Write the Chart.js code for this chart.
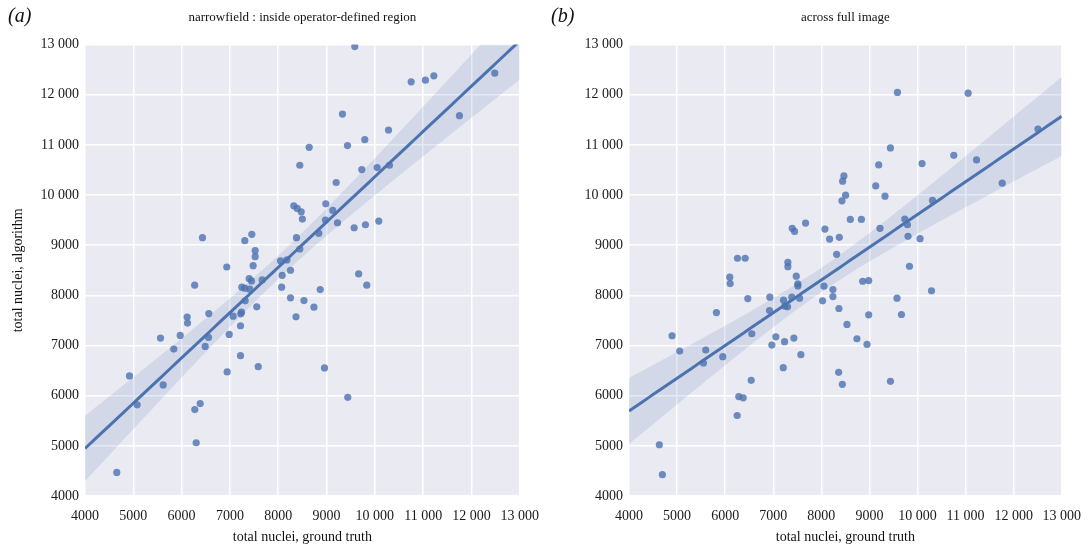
<!DOCTYPE html>
<html>
<head>
<meta charset="utf-8">
<script src="https://cdn.jsdelivr.net/npm/chart.js@4/dist/chart.umd.min.js"></script>
<style>
  body { margin: 0; background: #fff; overflow: hidden; }
  #wrap { position: relative; width: 1089px; height: 547px; overflow: hidden; }
  .panel { position: absolute; top: 0; height: 547px; }
  .lab { position: absolute; top: 4px; font: italic 20px "Liberation Serif", serif; color: #111; }
</style>
</head>
<body>
<div id="wrap">
  <div class="panel" style="left:0;width:551px"><canvas id="chart-a"></canvas></div>
  <div class="panel" style="left:545px;width:548px"><canvas id="chart-b"></canvas></div>
  <div class="lab" style="left:8px">(a)</div>
  <div class="lab" style="left:551px">(b)</div>
</div>
<script>
// ground truth vs algorithm counts, panel (a)
const truthA = [9585, 10752, 11048, 11221, 12483, 11752, 9330, 10283, 9792, 9434, 8641, 8447,
  9730, 10049, 10303, 9200, 8985, 9130, 8978, 9227, 9572, 9806, 10082, 8840, 8378, 8447,
  8322, 8393, 8476, 8500, 6432, 7308, 7453, 7523, 7523, 7481, 6935, 8047, 8180, 8254, 8082,
  8070, 7668, 8869, 8254, 8533, 8740, 8368, 9665, 9833, 8958, 9440, 6270, 7399, 7447, 7246,
  7308, 7411, 7316, 7556, 6115, 6122, 6563, 7067, 7240, 7225, 7219, 5971, 6985, 6557, 6488,
  5838, 7219, 7586, 6943, 5563, 4921, 5618, 5080, 6273, 6385, 6302, 4658];
const algoA = [12960, 12258, 12291, 12378, 12430, 11582, 11615, 11297, 11105, 10986, 10952, 10594,
  10509, 10549, 10594, 10251, 9825, 9694, 9501, 9448, 9348, 9408, 9481, 9237, 9150, 8925,
  9785, 9733, 9666, 9521, 9150, 9090, 9217, 8891, 8771, 8592, 8566, 8686, 8706, 8501, 8400,
  8163, 8308, 8116, 7951, 7897, 7765, 7573, 8428, 8203, 6553, 5968, 8203, 8334, 8288, 8163,
  8143, 8123, 7891, 7771, 7567, 7447, 7638, 7586, 7666, 7632, 7394, 7201, 7221, 7161, 6982,
  6930, 6797, 6579, 6473, 7149, 6394, 6215, 5817, 5724, 5843, 5062, 4471];

// panel (b)
const truthB = [8470, 8443, 8505, 8429, 7672, 7395, 7443, 8075, 8172, 8374, 8603, 8318, 6256,
  6416, 7304, 7304, 9583, 11053, 9437, 9193, 10755, 10095, 9131, 9324, 10312, 8833, 9220,
  9735, 9791, 9803, 10053, 9833, 7478, 7512, 7512, 7547, 8054, 8241, 8241, 8026, 8366, 8860,
  8985, 9574, 8985, 9666, 10291, 8533, 8741, 8950, 7429, 7575, 8360, 8437, 9437, 6096, 6104,
  6471, 6929, 6922, 7214, 7241, 7297, 7387, 5818, 4896, 5054, 5596, 5548, 5950, 6554, 7054,
  6971, 7235, 7208, 6541, 6283, 6375, 6250, 4631, 4694, 11228, 12505, 11762];
const algoB = [10382, 10277, 9998, 9885, 9442, 9336, 9276, 9322, 9123, 9157, 9515, 8819, 8740,
  8740, 8660, 8573, 12046, 12032, 10939, 10601, 10793, 10628, 10183, 9978, 9893, 9515, 9336,
  9521, 9408, 9177, 9130, 8581, 8382, 8229, 8189, 7944, 8183, 8116, 7976, 7891, 7738, 8282,
  8295, 7944, 7613, 7619, 8090, 7420, 7135, 7022, 7149, 6817, 6466, 6227, 6287, 8362, 8235,
  7937, 7964, 7698, 7905, 7785, 7771, 7964, 7658, 7195, 6891, 6911, 6652, 6778, 7235, 7175,
  7010, 7076, 6559, 6306, 5982, 5957, 5605, 5022, 4426, 10700, 11316, 10237];

const tickValues = [4000, 5000, 6000, 7000, 8000, 9000, 10000, 11000, 12000, 13000];
const tickLabels = ["4000", "5000", "6000", "7000", "8000", "9000", "10 000", "11 000", "12 000", "13 000"];

const BLUE = "rgb(76, 114, 176)";
const SERIF = "'Liberation Serif', 'DejaVu Serif', serif";

// least squares line with a 95% band for the mean, like seaborn's regplot
function regression(xs, ys) {
  const n = xs.length;
  const mx = xs.reduce((a, b) => a + b, 0) / n;
  const my = ys.reduce((a, b) => a + b, 0) / n;
  let sxx = 0, sxy = 0;
  xs.forEach((x, i) => {
    sxx += (x - mx) * (x - mx);
    sxy += (x - mx) * (ys[i] - my);
  });
  const slope = sxy / sxx;
  const icpt = my - slope * mx;
  let sse = 0;
  xs.forEach((x, i) => {
    const r = ys[i] - (icpt + slope * x);
    sse += r * r;
  });
  const s = Math.sqrt(sse / (n - 2));
  const line = [], lower = [], upper = [];
  for (let x = tickValues[0]; x <= tickValues[tickValues.length - 1]; x += 100) {
    const yh = icpt + slope * x;
    const half = 1.99 * s * Math.sqrt(1 / n + ((x - mx) * (x - mx)) / sxx);
    line.push({ x, y: yh });
    lower.push({ x, y: yh - half });
    upper.push({ x, y: yh + half });
  }
  return { line, lower, upper };
}

const plotBg = {
  id: "plotBg",
  beforeDraw(chart) {
    const { ctx, chartArea: a } = chart;
    ctx.save();
    ctx.fillStyle = "#eaeaf2";
    ctx.fillRect(a.left, a.top, a.right - a.left, a.bottom - a.top);
    ctx.restore();
  },
};

function makeChart(id, xs, ys, title, yTitle, axisWidth) {
  const fit = regression(xs, ys);
  const points = xs.map((x, i) => ({ x, y: ys[i] }));
  const tickFont = { family: SERIF, size: 14 };
  const axis = (extra) => ({
    type: "linear",
    min: 4000,
    max: 13000,
    afterBuildTicks: (s) => {
      s.ticks = tickValues.map((v) => ({ value: v }));
    },
    grid: { color: "#ffffff", lineWidth: 1.5, drawTicks: false },
    border: { display: false },
    ...extra,
  });

  return new Chart(document.getElementById(id), {
    type: "scatter",
    data: {
      datasets: [
        {
          type: "line",
          data: fit.lower,
          borderWidth: 0,
          pointRadius: 0,
          fill: false,
          order: 2,
        },
        {
          type: "line",
          data: fit.upper,
          borderWidth: 0,
          pointRadius: 0,
          fill: "-1",
          backgroundColor: "rgba(76, 114, 176, 0.15)",
          order: 2,
        },
        {
          type: "line",
          data: fit.line,
          borderColor: BLUE,
          borderWidth: 3,
          pointRadius: 0,
          fill: false,
          order: 1,
        },
        {
          data: points,
          backgroundColor: "rgba(76, 114, 176, 0.8)",
          pointRadius: 3.6,
          pointBorderWidth: 0,
          order: 3,
        },
      ],
    },
    options: {
      responsive: true,
      maintainAspectRatio: false,
      animation: false,
      layout: { padding: 0 },
      plugins: {
        legend: { display: false },
        tooltip: { enabled: false },
        title: {
          display: true,
          text: title,
          fullSize: false,
          color: "#111",
          font: { family: SERIF, size: 13, weight: "normal" },
          padding: { top: 10, bottom: 19 },
        },
      },
      scales: {
        x: axis({
          ticks: {
            color: "#1a1a1a",
            font: tickFont,
            padding: 12,
            maxRotation: 0,
            callback: (v) => tickLabels[tickValues.indexOf(v)],
          },
          title: {
            display: true,
            text: "total nuclei, ground truth",
            color: "#111",
            font: tickFont,
            padding: { top: 0, bottom: 1 },
          },
          afterFit: (s) => {
            s.height = 51;
          },
        }),
        y: axis({
          ticks: {
            color: "#1a1a1a",
            font: tickFont,
            padding: 6,
            callback: (v) => tickLabels[tickValues.indexOf(v)],
          },
          title: {
            display: !!yTitle,
            text: yTitle,
            color: "#111",
            font: tickFont,
            padding: { top: 10, bottom: 0 },
          },
          afterFit: (s) => {
            s.width = axisWidth;
          },
        }),
      },
    },
    plugins: [plotBg],
  });
}

makeChart("chart-a", truthA, algoA, "narrowfield : inside operator-defined region",
  "total nuclei, algorithm", 85);
makeChart("chart-b", truthB, algoB, "across full image", "", 84);
</script>
</body>
</html>
